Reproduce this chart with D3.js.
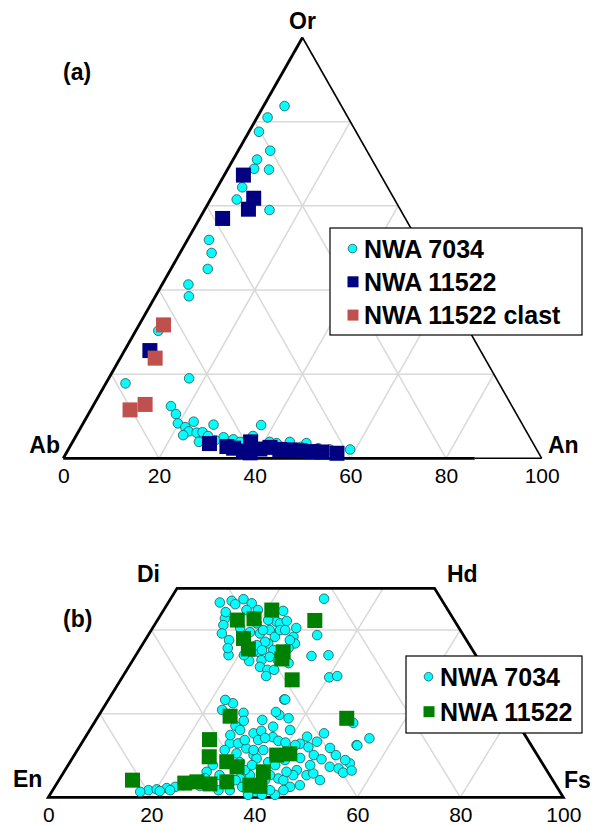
<!DOCTYPE html>
<html>
<head>
<meta charset="utf-8">
<script src="https://cdn.jsdelivr.net/npm/d3@7"></script>
<style>
  body { margin: 0; background: #fff; }
  svg { display: block; font-family: "Liberation Sans", Arial, sans-serif; }
  .tick text { font-size: 21px; fill: #000; }
  .apex { font-size: 23px; font-weight: bold; }
  .legend text { font-size: 25px; font-weight: bold; }
</style>
</head>
<body>
<div id="chart"></div>
<script>
// feldspar: [An, Or] in mol%, Ab = 100 - An - Or
var feld7034 = [[4.4,83.7],[2.2,81.0],[2.1,77.6],[6.7,73.1],[5.0,71.0],[5.5,68.8],[8.7,68.6],[5.2,64.4],
  [5.5,61.5],[13.6,59.0],[4.5,51.9],[6.6,48.8],[7.7,45.0],[5.5,41.3],[7.0,38.5],[4.7,30.3],[4.1,17.8],
  [16.8,19.0],[16.3,12.4],[18.3,10.5],[19.8,8.3],[21.8,7.4],[22.9,8.7],[23.0,6.4],[24.8,6.1],[26.0,6.2],
  [26.4,3.9],[27.4,8.0],[37.4,7.9],[31.0,5.0],[33.3,4.5],[37.0,5.3],[41.2,3.9],[42.8,3.6],[45.4,3.9],
  [49.0,3.6],[54.7,2.1],[58.9,2.1],[29.6,4.3],[35.0,3.9],[40.7,2.9],[44.4,2.7],[48.2,2.7],[52.1,2.4],
  [22.3,5.5],[27.6,5.3]];
var feld11522 = [[4.0,67.3],[8.9,61.8],[9.1,59.2],[4.8,57.0],[5.3,25.6],[28.8,3.5],[32.8,2.8],[34.4,2.4],
  [36.8,1.7],[37.2,3.9],[38.4,1.3],[41.9,2.6],[44.2,2.1],[46.4,2.0],[48.6,1.8],[51.2,1.6],[56.6,1.2],
  [40.0,2.2],[53.3,1.5]];
var feld11522Clast = [[5.1,31.7],[7.3,23.8],[10.7,12.8],[8.2,11.5]];

// pyroxene: [Fs, Wo] in mol%, En = 100 - Fs - Wo
var pyx7034 = [[10.0,46.6],[12.1,47.0],[14.2,47.4],[16.3,46.4],[12.9,42.8],[13.4,41.2],[14.1,39.2],
  [23.3,42.0],[24.2,41.6],[23.3,44.6],[23.0,40.0],[21.5,39.2],[24.8,38.4],[24.3,36.8],[23.5,37.2],
  [28.4,38.4],[29.5,36.8],[23.4,34.8],[25.0,32.8],[25.5,31.2],[27.3,30.5],[18.0,34.0],[22.7,32.6],
  [34.2,33.8],[37.4,34.0],[32.8,38.8],[29.8,47.5],[40.2,28.7],[41.6,29.0],[34.1,23.4],[24.6,22.5],
  [30.6,32.1],[16.1,44.8],[19.7,41.6],[21.7,40.0],[25.0,40.0],[26.1,35.2],[22.4,34.8],[26.2,33.6],
  [22.3,36.4],[12.3,44.3],[16.3,37.6],[25.2,42.2],[21.0,34.0],[28.8,35.7],
  [17.0,40.5],[19.4,39.5],[20.2,36.4],[23.9,35.2],[26.0,40.0],[28.1,37.6],[28.2,32.8],[27.8,29.0],
  [28.6,30.5],[13.2,46.2],[18.3,44.8],[17.0,35.7],[21.5,42.4],[27.9,40.5],
  [23.3,20.9],[27.8,20.2],[28.8,18.3],[27.8,17.1],[32.2,15.3],[28.8,12.9],[30.4,12.9],[32.6,11.7],
  [31.3,10.5],[34.8,10.1],[28.1,7.7],[27.7,6.1],[18.6,1.7],[20.1,1.9],[21.9,2.2],[23.4,2.5],[24.8,2.9],
  [26.2,3.4],[20.9,1.5],[34.3,23.4],[35.0,19.7],[37.2,18.9],[35.2,16.9],[33.4,15.9],[36.4,14.4],
  [37.9,13.5],[39.5,13.1],[42.5,12.8],[43.0,14.5],[45.5,13.3],[45.9,15.3],[44.5,12.0],[46.5,10.1],
  [48.5,9.1],[50.8,10.1],[51.0,7.3],[52.9,6.9],[54.3,5.9],[54.5,8.1],[55.7,6.4],[53.6,12.5],[55.3,14.1],
  [45.0,6.5],[47.5,5.3],[48.6,5.7],[47.4,2.9],[45.7,2.5],[44.8,1.7],[42.4,4.5],[43.6,4.1],[44.9,5.3],
  [43.2,6.1],[43.7,0.6],[36.1,11.3],[35.8,9.3],[34.2,11.3],[50.3,17.8],[53.8,12.4],[30.6,5.3],[34.9,4.6],
  [36.5,5.3],[40.0,4.1],[42.2,1.7],[34.4,1.7],[39.5,1.3],[34.9,6.5],[38.5,8.4],[40.2,7.7],[31.3,13.7],
  [28.6,11.3],[30.1,3.4],[28.1,2.7],[33.0,8.4],[41.2,0.6],[38.5,0.6],
  [22.7,23.3],[29.2,16.1],[27.9,14.9],[33.9,13.7],[35.0,14.2],[38.9,16.1],[41.7,12.5],[44.2,9.4],
  [47.0,7.7],[50.7,4.1],[38.9,2.9],[36.4,2.5],[34.3,4.1],[32.2,1.7],[28.1,4.6],[40.4,5.3],[35.7,7.7],
  [41.5,8.9],[48.8,11.8],[53.2,8.9],[32.3,18.5],[34.0,20.4],[22.8,1.7],[17.2,1.3]];
var pyx11522 = [[15.5,42.4],[18.6,42.7],[21.0,44.8],[18.9,38.0],[21.1,35.5],[28.2,34.8],[28.8,33.1],
  [33.3,28.1],[30.6,42.3],[25.6,19.4],[24.4,13.8],[26.4,9.7],[14.3,4.1],[27.0,3.7],[29.8,3.2],[32.8,3.7],
  [30.4,8.5],[33.0,7.3],[37.7,2.9],[39.8,2.6],[38.7,6.1],[39.3,10.1],[41.7,10.4],[48.5,18.9],[24.8,3.4]];

var tickValues = [0, 20, 40, 60, 80, 100],
    gridSteps = [20, 40, 60, 80];

var cyan = "#00FFFF", navy = "#000080", clastRed = "#C0504D", green = "#008000";

var svg = d3.select("#chart").append("svg")
    .attr("width", 596)
    .attr("height", 826);

// top panel (a): Ab-An-Or
var xA = d3.scaleLinear().domain([0, 100]).range([63.3, 541.7]),
    yA = d3.scaleLinear().domain([0, 100]).range([458.3, 37.5]);
// bottom panel (b): En-Fs-Wo, cut at Wo 50
var xB = d3.scaleLinear().domain([0, 100]).range([48.3, 563.3]),
    yB = d3.scaleLinear().domain([0, 100]).range([797.3, 379.3]);

function ternX(x) { return function(d) { return x(d[0] + d[1] / 2); }; }
function ternY(y) { return function(d) { return y(d[1]); }; }
function ternLine(x, y) { return d3.line().x(ternX(x)).y(ternY(y)); }

var lineA = ternLine(xA, yA),
    lineB = ternLine(xB, yB);

// grid
var gridA = [], gridB = [];
gridSteps.forEach(function(t) {
  gridA.push([[0, t], [100 - t, t]], [[t, 0], [t, 100 - t]], [[100 - t, 0], [0, 100 - t]]);
  var cap = Math.min(50, 100 - t);
  if (t < 50) gridB.push([[0, t], [100 - t, t]]);
  gridB.push([[t, 0], [t, cap]], [[100 - t, 0], [100 - t - cap, cap]]);
});

svg.append("g").selectAll("path").data(gridA).enter().append("path")
    .attr("d", lineA)
    .attr("fill", "none").attr("stroke", "#d9d9d9").attr("stroke-width", 1.5);
svg.append("g").selectAll("path").data(gridB).enter().append("path")
    .attr("d", lineB)
    .attr("fill", "none").attr("stroke", "#d9d9d9").attr("stroke-width", 1.5);

// outlines
var edgesA = [
  {p: [[0, 0], [86, 0]], w: 2.8},
  {p: [[86, 0], [100, 0]], w: 1.6},
  {p: [[0, 0], [0, 100]], w: 2.8},
  {p: [[100, 0], [0, 100]], w: 1.6}
];
svg.append("g").selectAll("path").data(edgesA).enter().append("path")
    .attr("d", function(d) { return lineA(d.p); })
    .attr("fill", "none").attr("stroke", "#000").attr("stroke-width", function(d) { return d.w; });

svg.append("path")
    .attr("d", lineB([[0, 0], [100, 0], [50, 50], [0, 50]]) + "Z")
    .attr("fill", "none").attr("stroke", "#000").attr("stroke-width", 2.8)
    .attr("stroke-linejoin", "miter");

// axes
svg.append("g")
    .attr("transform", "translate(0," + yA(0) + ")")
    .call(d3.axisBottom(xA).tickValues(tickValues).tickSize(0).tickPadding(10))
    .call(function(g) { g.select(".domain").remove(); })
    .selectAll("text").attr("font-family", null);
svg.append("g")
    .attr("transform", "translate(0," + yB(0) + ")")
    .call(d3.axisBottom(xB).tickValues(tickValues).tickSize(0).tickPadding(10))
    .call(function(g) { g.select(".domain").remove(); })
    .selectAll("text").attr("font-family", null);
svg.selectAll(".tick text").attr("font-size", null);

// points
function circles(data, x, y) {
  svg.append("g").selectAll("circle").data(data).enter().append("circle")
      .attr("cx", ternX(x)).attr("cy", ternY(y)).attr("r", 4.8)
      .attr("fill", cyan).attr("stroke", "#2a4f4f").attr("stroke-width", 0.8);
}
function squares(data, x, y, color) {
  var s = 15;
  svg.append("g").selectAll("rect").data(data).enter().append("rect")
      .attr("x", function(d) { return ternX(x)(d) - s / 2; })
      .attr("y", function(d) { return ternY(y)(d) - s / 2; })
      .attr("width", s).attr("height", s)
      .attr("fill", color);
}

circles(feld7034, xA, yA);
squares(feld11522, xA, yA, navy);
squares(feld11522Clast, xA, yA, clastRed);
circles(pyx7034, xB, yB);
squares(pyx11522, xB, yB, green);

// labels
var labels = [
  {t: "Or", x: 302.5, y: 29, a: "middle"},
  {t: "Ab", x: 60, y: 453, a: "end"},
  {t: "An", x: 548, y: 453, a: "start"},
  {t: "(a)", x: 63, y: 79.5, a: "start"},
  {t: "Di", x: 148.5, y: 582, a: "middle"},
  {t: "Hd", x: 447, y: 582, a: "start"},
  {t: "En", x: 13, y: 787, a: "start"},
  {t: "Fs", x: 564, y: 788, a: "start"},
  {t: "(b)", x: 63, y: 627, a: "start"}
];
svg.append("g").selectAll("text").data(labels).enter().append("text")
    .attr("class", "apex")
    .attr("x", function(d) { return d.x; })
    .attr("y", function(d) { return d.y; })
    .attr("text-anchor", function(d) { return d.a; })
    .text(function(d) { return d.t; });

// legends
function legend(box, items) {
  var g = svg.append("g").attr("class", "legend");
  g.append("rect")
      .attr("x", box.x).attr("y", box.y).attr("width", box.w).attr("height", box.h)
      .attr("fill", "#fff").attr("stroke", "#000").attr("stroke-width", 1.2);
  items.forEach(function(it, i) {
    var cy = box.y + box.first + i * box.step;
    if (it.shape === "circle") {
      g.append("circle").attr("cx", box.x + 22.5).attr("cy", cy).attr("r", 4.3)
          .attr("fill", it.color).attr("stroke", "#2a4f4f").attr("stroke-width", 0.8);
    } else {
      g.append("rect").attr("x", box.x + 17.5).attr("y", cy - 5.5).attr("width", 11).attr("height", 11)
          .attr("fill", it.color);
    }
    g.append("text").attr("x", box.x + 34).attr("y", cy + 9).text(it.label);
  });
}

legend({x: 330, y: 228, w: 252, h: 107, first: 20.5, step: 33.3}, [
  {label: "NWA 7034", color: cyan, shape: "circle"},
  {label: "NWA 11522", color: navy, shape: "square"},
  {label: "NWA 11522 clast", color: clastRed, shape: "square"}
]);
legend({x: 406, y: 656, w: 176, h: 77, first: 20.7, step: 35}, [
  {label: "NWA 7034", color: cyan, shape: "circle"},
  {label: "NWA 11522", color: green, shape: "square"}
]);
</script>
</body>
</html>
